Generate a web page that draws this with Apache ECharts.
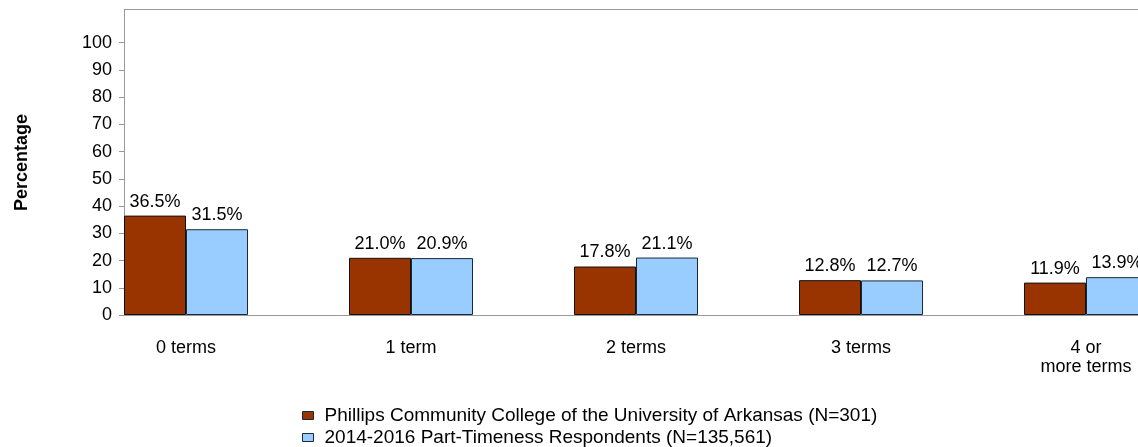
<!DOCTYPE html>
<html><head><meta charset="utf-8">
<script src="https://cdn.jsdelivr.net/npm/echarts@6/dist/echarts.min.js"></script>
<style>html,body{margin:0;padding:0;background:#fff}#c{width:1138px;height:447px}</style>
</head><body><div id="c"></div>
<script>
var categories = ['0 terms', '1 term', '2 terms', '3 terms', '4 or\nmore terms'];
var seriesNames = ['Phillips Community College of the University of Arkansas (N=301)', '2014-2016 Part-Timeness Respondents (N=135,561)'];
var collegeValues = [36.5, 21.0, 17.8, 12.8, 11.9];
var respondentValues = [31.5, 20.9, 21.1, 12.7, 13.9];
var yTicks = [0, 10, 20, 30, 40, 50, 60, 70, 80, 90, 100];

var chart = echarts.init(document.getElementById('c'), null, {renderer: 'canvas'});
var font = 'Liberation Sans, Arial, sans-serif';
var labelCfg = {show: true, position: 'top', distance: 5, color: '#000', fontSize: 18, fontFamily: font,
  formatter: function (p) { return p.value.toFixed(1) + '%'; }};
chart.setOption({
  animation: false,
  grid: {left: 124, top: 10, width: 1125, height: 305, show: false, outerBoundsMode: 'none', containLabel: false},
  xAxis: {
    type: 'category', data: categories,
    axisLine: {lineStyle: {color: '#999', width: 1}},
    axisTick: {show: false},
    axisLabel: {color: '#000', fontSize: 18, fontFamily: font, margin: 24, lineHeight: 19,
      align: 'center', padding: [0, 101, 0, 0], interval: 0}
  },
  yAxis: {
    type: 'value', min: 0, max: 112,
    name: 'Percentage', nameLocation: 'middle', nameGap: 93,
    nameTextStyle: {fontWeight: 'bold', fontSize: 18, color: '#000', fontFamily: font},
    axisLine: {show: true, lineStyle: {color: '#999'}},
    axisTick: {show: true, length: 5, lineStyle: {color: '#999'}, customValues: yTicks},
    axisLabel: {color: '#000', fontSize: 18, fontFamily: font, margin: 12, customValues: yTicks},
    splitLine: {show: false}
  },
  legend: {
    orient: 'vertical', left: 302, top: 406, padding: 0, itemWidth: 11, itemHeight: 8, itemGap: 3,
    icon: 'rect', data: seriesNames,
    textStyle: {color: '#000', fontSize: 19, fontFamily: font, lineHeight: 18, padding: [0, 0, 0, 6]},
    itemStyle: {borderColor: '#1a2a3a', borderWidth: 1}
  },
  graphic: [{type: 'line', shape: {x1: 124, y1: 9.5, x2: 1138, y2: 9.5}, style: {stroke: '#999', lineWidth: 1}, silent: true}],
  series: [
    {name: seriesNames[0], type: 'bar', data: collegeValues, barWidth: 62, barGap: 0, barCategoryGap: 0,
      itemStyle: {color: '#993300', borderColor: '#111', borderWidth: 1}, label: labelCfg},
    {name: seriesNames[1], type: 'bar', data: respondentValues, barWidth: 62, barGap: 0,
      itemStyle: {color: '#99CCFF', borderColor: '#1a2a3a', borderWidth: 1}, label: labelCfg},
    {name: 'spacer', type: 'bar', data: [0, 0, 0, 0, 0], barWidth: 101, barGap: 0, silent: true,
      itemStyle: {color: 'rgba(0,0,0,0)', borderWidth: 0}, label: {show: false}}
  ]
});
</script></body></html>
